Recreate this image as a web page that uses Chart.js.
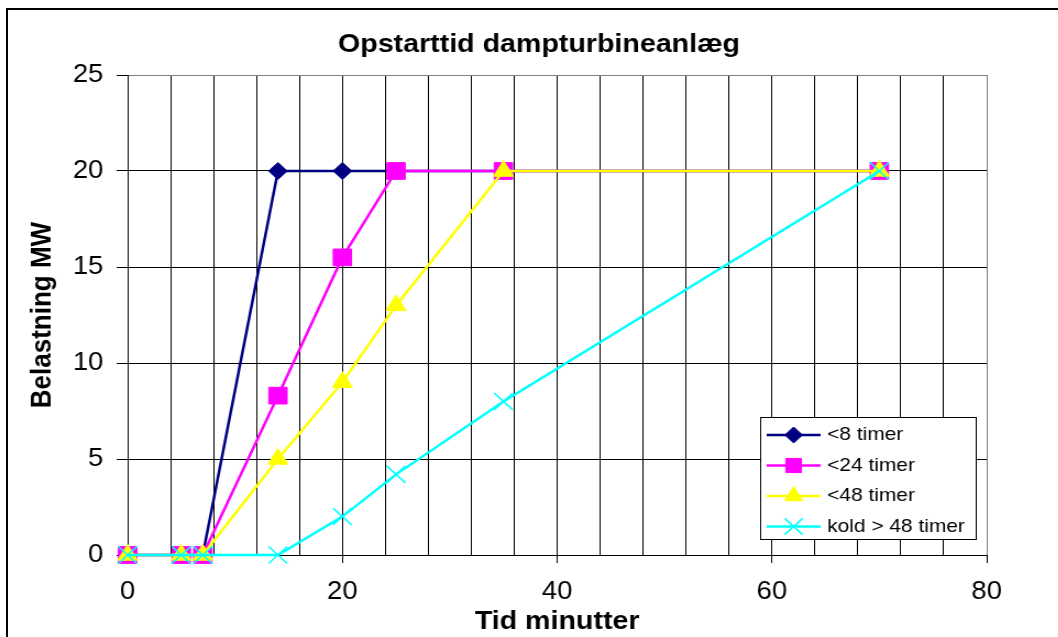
<!DOCTYPE html>
<html>
<head>
<meta charset="utf-8">
<script src="https://cdn.jsdelivr.net/npm/chart.js@4/dist/chart.umd.min.js"></script>
<style>
  html, body { margin: 0; padding: 0; background: #fff; }
  body { width: 1058px; height: 637px; position: relative; overflow: hidden; }
  /* the reference is a little stretched sideways, so draw narrower and widen */
  #wrap { position: absolute; left: 0; top: 0; width: 962px; height: 637px;
          transform: scaleX(1.1); transform-origin: 0 0; }
  #frame { position: absolute; left: 6px; top: 8px; width: 1100px; height: 700px;
           border-top: 2px solid #000; border-left: 2px solid #000; }
</style>
</head>
<body>
<div id="frame"></div>
<div id="wrap"><canvas id="chart"></canvas></div>
<script>
// chart texts
const chartTitle = 'Opstarttid dampturbineanlæg';
const xTitle = 'Tid minutter';
const yTitle = 'Belastning MW';

// time in minutes, shared by all series
const minutes = [0, 5, 7, 14, 20, 25, 35, 70];

// load in MW for each start type
const under8 = [0, 0, 0, 20, 20, 20, 20, 20];
const under24 = [0, 0, 0, 8.3, 15.5, 20, 20, 20];
const under48 = [0, 0, 0, 5, 9, 13, 20, 20];
const coldStart = [0, 0, 0, 0, 2, 4.2, 8, 20];

const seriesNames = ['<8 timer', '<24 timer', '<48 timer', 'kold > 48 timer'];

// axis ticks
const xMax = 80;
const xGridStep = 4;
const xLabelStep = 20;
const yMax = 25;
const yStep = 5;

const FONT = '"Liberation Sans", Arial, sans-serif';
Chart.defaults.font.family = FONT;
Chart.defaults.color = '#000';

function toPoints(values) {
  return values.map((v, i) => ({ x: minutes[i], y: v }));
}

// marker look per series
const styles = [
  { color: '#000080', point: 'rectRot', radius: 8.5, legendRadius: 8, border: 1 },
  { color: '#FF00FF', point: 'rect', radius: 11.8, legendRadius: 10, border: 1 },
  { color: '#FFFF00', point: 'triangle', radius: 10.5, legendRadius: 9.5, border: 1 },
  { color: '#00FFFF', point: 'crossRot', radius: 12, legendRadius: 11.5, border: 1.5 }
];

const allSeries = [under8, under24, under48, coldStart];

const datasets = allSeries.map((values, i) => ({
  label: seriesNames[i],
  data: toPoints(values),
  borderColor: styles[i].color,
  backgroundColor: styles[i].color,
  pointBackgroundColor: styles[i].color,
  pointBorderColor: styles[i].color,
  pointStyle: styles[i].point,
  pointRadius: styles[i].radius,
  pointBorderWidth: styles[i].border,
  borderWidth: 2.5,
  tension: 0,
  clip: false,
  // cyan on top, navy at the bottom
  order: allSeries.length - 1 - i
}));

// draws the title and the boxed legend inside the plot
const decor = {
  id: 'decor',
  afterDraw(chart) {
    const ctx = chart.ctx;
    ctx.save();

    ctx.font = 'bold 26px ' + FONT;
    ctx.fillStyle = '#000';
    ctx.textAlign = 'center';
    ctx.textBaseline = 'middle';
    ctx.fillText(chartTitle, 490, 45);

    // legend box
    const bx = 691, by = 417, bw = 196, bh = 122;
    ctx.fillStyle = '#fff';
    ctx.fillRect(bx, by, bw, bh);
    ctx.strokeStyle = '#000';
    ctx.lineWidth = 1;
    ctx.strokeRect(bx + 0.5, by + 0.5, bw, bh);

    ctx.font = '19px ' + FONT;
    ctx.textAlign = 'left';
    seriesNames.forEach((name, i) => {
      const y = by + 18 + i * 30.5;
      const s = styles[i];
      ctx.strokeStyle = s.color;
      ctx.fillStyle = s.color;
      ctx.lineWidth = 2.5;
      ctx.beginPath();
      ctx.moveTo(697, y);
      ctx.lineTo(746, y);
      ctx.stroke();
      ctx.lineWidth = s.border;
      Chart.helpers.drawPoint(ctx, {
        pointStyle: s.point, radius: s.legendRadius, borderWidth: s.border, rotation: 0
      }, 721.5, y);
      ctx.fillStyle = '#000';
      ctx.fillText(name, 752, y);
    });

    ctx.restore();
  }
};

new Chart(document.getElementById('chart'), {
  type: 'line',
  data: { datasets: datasets },
  plugins: [decor],
  options: {
    responsive: true,
    maintainAspectRatio: false,
    animation: false,
    events: [],
    layout: { padding: { top: 75, right: 65, bottom: 0, left: 0 } },
    plugins: {
      legend: { display: false },
      title: { display: false },
      tooltip: { enabled: false }
    },
    scales: {
      x: {
        type: 'linear',
        min: 0,
        max: xMax,
        afterFit(scale) { scale.height = 82; },
        ticks: {
          stepSize: xGridStep,
          autoSkip: false,
          maxRotation: 0,
          padding: 14,
          font: { size: 25 },
          callback: (v) => (v % xLabelStep === 0 ? String(v) : '')
        },
        grid: {
          color: (c) => (c.tick && c.tick.value === xMax ? '#808080' : '#000'),
          tickColor: (c) => (c.tick && c.tick.value % xLabelStep === 0 ? '#000' : 'rgba(0,0,0,0)'),
          tickLength: 8,
          lineWidth: 1
        },
        border: { color: '#000', width: 1 },
        title: {
          display: true,
          text: xTitle,
          font: { size: 26, weight: 'bold' },
          padding: { top: 0, bottom: 0 }
        }
      },
      y: {
        min: 0,
        max: yMax,
        afterFit(scale) { scale.width = 116; },
        ticks: {
          stepSize: yStep,
          padding: 12,
          font: { size: 25 }
        },
        grid: {
          color: (c) => (c.tick && c.tick.value === yMax ? '#808080' : '#000'),
          tickColor: '#000',
          tickLength: 10,
          lineWidth: 1
        },
        border: { color: '#000', width: 1 },
        title: {
          display: true,
          text: yTitle,
          font: { size: 26, weight: 'bold' },
          padding: { top: 23, bottom: 0 }
        }
      }
    }
  }
});
</script>
</body>
</html>
